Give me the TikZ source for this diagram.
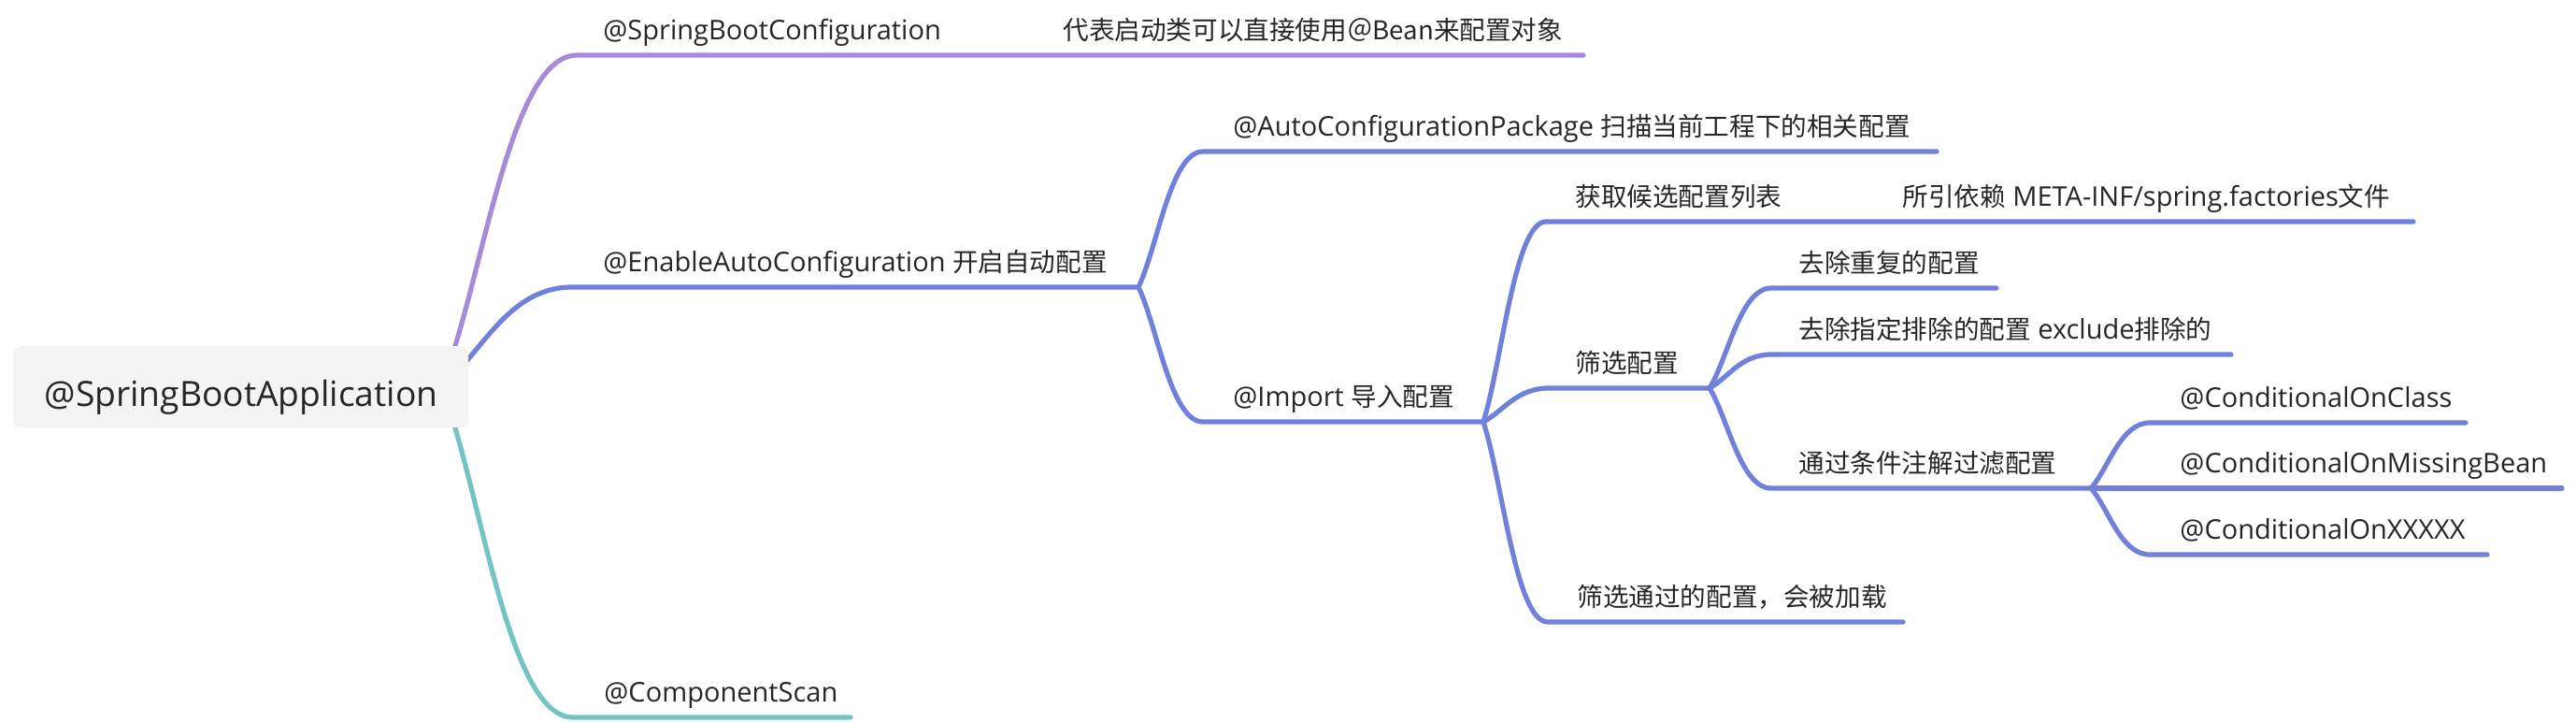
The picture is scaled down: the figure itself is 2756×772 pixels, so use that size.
\documentclass[tikz,border=0pt]{standalone}
\usepackage{fontspec}
\setmainfont{Open Sans}
\newfontfamily\cjk{Noto Sans CJK SC}
\usetikzlibrary{calc,backgrounds}
\definecolor{cpurple}{RGB}{167,139,219}
\definecolor{cblue}{RGB}{111,129,219}
\definecolor{cteal}{RGB}{115,197,195}
\definecolor{ctext}{RGB}{38,38,38}
\definecolor{rootfill}{RGB}{244,244,244}
\newcommand\mmbranch[4]{%
  \draw[uline,#4] let \p1=(#1), \p2=(#2) in (\p1) .. controls ({\x1+0.3*(\x2-\x1)},{\y1+0.3*(\y2-\y1)}) and ({\x2-0.5*(\x2-\x1)},\y2) .. (\p2) -- (#3);}
\newcommand\mmbranchx[5]{%
  \draw[uline,#5] let \p1=(#1), \p2=(#2) in (\p1) .. controls ({\x1+0.3*(\x2-\x1)},{\y1+0.3*(\y2-\y1)}) and ({\x2-0.5*(\x2-\x1)},\y2) .. (\p2) -- (#3) -- (#4);}
\begin{document}
\begin{tikzpicture}[x=0.5pt,y=-0.5pt,
  lbl/.style={anchor=base west, inner sep=0pt, text=ctext, font=\fontsize{14.5}{17}\selectfont},
  uline/.style={line width=2.6pt, line cap=round, line join=round},
  rootbox/.style={fill=rootfill, rounded corners=4pt, minimum width=243.5pt, minimum height=43.5pt, inner sep=0pt, text=ctext, font=\fontsize{18.6}{22}\selectfont},
]
\useasboundingbox (0,0) rectangle (2756,772);

% root
\node[rootbox] (root) at (257.5,413.5) {};
\node[anchor=base, inner sep=0pt, text=ctext, font=\fontsize{18.6}{22}\selectfont] (roottext) at (258,434) {@SpringBootApplication};
\coordinate (rootc) at (472,413);

% coordinates of underlines
\coordinate (sbc-s) at (617,59);   \coordinate (sbc-e) at (1110,59);  \coordinate (sbcc-e) at (1694,59);
\coordinate (eac-s) at (612,307);  \coordinate (eac-e) at (1218,307);
\coordinate (acp-s) at (1287,162); \coordinate (acp-e) at (2072,162);
\coordinate (imp-s) at (1287,451); \coordinate (imp-e) at (1587,451);
\coordinate (hq-s) at (1654,237);  \coordinate (hq-e) at (2010,237);  \coordinate (hqc-e) at (2582,237);
\coordinate (sx-s) at (1657,415);  \coordinate (sx-e) at (1829,415);
\coordinate (qa-s) at (1895,308);  \coordinate (qa-e) at (2136,308);
\coordinate (qb-s) at (1895,379);  \coordinate (qb-e) at (2387,379);
\coordinate (tg-s) at (1895,522);  \coordinate (tg-e) at (2237,522);
\coordinate (ca-s) at (2300,452);  \coordinate (ca-e) at (2638,452);
\coordinate (cb-s) at (2300,522);  \coordinate (cb-e) at (2741,522);
\coordinate (cc-s) at (2300,593);  \coordinate (cc-e) at (2661,593);
\coordinate (st-s) at (1656,665);  \coordinate (st-e) at (2036,665);
\coordinate (cs-s) at (613,767);   \coordinate (cs-e) at (910,767);

% labels
\node[lbl] (sbc) at (645,42.5) {@SpringBootConfiguration};
\node[lbl] (sbcc) at (1137,42.5) {\cjk\fontsize{13.8}{17}\selectfont 代表启动类可以直接使用＠Bean来配置对象};
\node[lbl] (eac) at (645,290.5) {@EnableAutoConfiguration {\cjk\fontsize{13.8}{17}\selectfont 开启自动配置}};
\node[lbl] (acp) at (1319,145.5) {@AutoConfigurationPackage {\cjk\fontsize{13.8}{17}\selectfont 扫描当前工程下的相关配置}};
\node[lbl] (imp) at (1319,434.5) {@Import {\cjk\fontsize{13.8}{17}\selectfont 导入配置}};
\node[lbl] (hq) at (1685,220.5) {\cjk\fontsize{13.8}{17}\selectfont 获取候选配置列表};
\node[lbl] (hqc) at (2035,220.5) {{\cjk\fontsize{13.8}{17}\selectfont 所引依赖} META-INF/spring.factories{\cjk\fontsize{13.8}{17}\selectfont 文件}};
\node[lbl] (sx) at (1685,398.5) {\cjk\fontsize{13.8}{17}\selectfont 筛选配置};
\node[lbl] (qa) at (1924,291.5) {\cjk\fontsize{13.8}{17}\selectfont 去除重复的配置};
\node[lbl] (qb) at (1924,362.5) {{\cjk\fontsize{13.8}{17}\selectfont 去除指定排除的配置} exclude{\cjk\fontsize{13.8}{17}\selectfont 排除的}};
\node[lbl] (tg) at (1924,505.5) {\cjk\fontsize{13.8}{17}\selectfont 通过条件注解过滤配置};
\node[lbl] (ca) at (2332,435.5) {@ConditionalOnClass};
\node[lbl] (cb) at (2332,505.5) {@ConditionalOnMissingBean};
\node[lbl] (cc) at (2332,576.5) {@ConditionalOnXXXXX};
\node[lbl] (st) at (1687,648.5) {\cjk\fontsize{13.8}{17}\selectfont 筛选通过的配置，会被加载};
\node[lbl] (cs) at (646,750.5) {@ComponentScan};

% connectors
\begin{scope}[on background layer]
\mmbranchx{rootc}{sbc-s}{sbc-e}{sbcc-e}{cpurple}
\mmbranch{rootc}{eac-s}{eac-e}{cblue}
\mmbranch{rootc}{cs-s}{cs-e}{cteal}
\mmbranch{eac-e}{acp-s}{acp-e}{cblue}
\mmbranch{eac-e}{imp-s}{imp-e}{cblue}
\mmbranchx{imp-e}{hq-s}{hq-e}{hqc-e}{cblue}
\mmbranch{imp-e}{sx-s}{sx-e}{cblue}
\mmbranch{imp-e}{st-s}{st-e}{cblue}
\mmbranch{sx-e}{qa-s}{qa-e}{cblue}
\mmbranch{sx-e}{qb-s}{qb-e}{cblue}
\mmbranch{sx-e}{tg-s}{tg-e}{cblue}
\mmbranch{tg-e}{ca-s}{ca-e}{cblue}
\draw[uline,cblue] (tg-e) -- (cb-s) -- (cb-e);
\mmbranch{tg-e}{cc-s}{cc-e}{cblue}
\end{scope}
\end{tikzpicture}
\end{document}
